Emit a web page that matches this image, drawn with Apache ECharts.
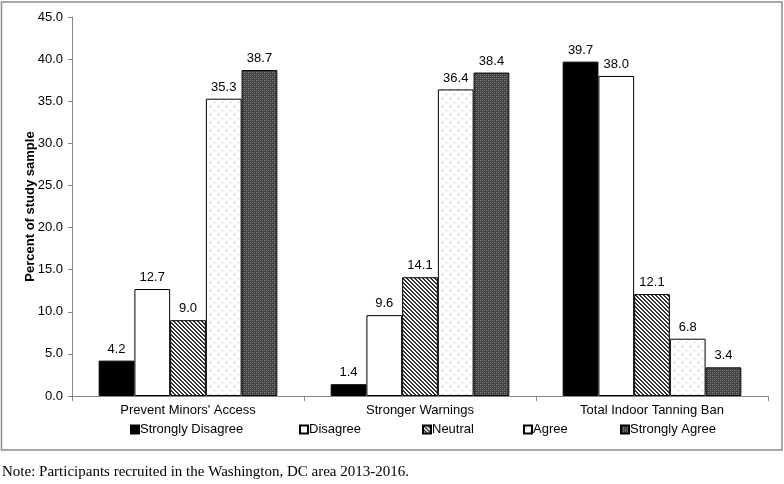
<!DOCTYPE html>
<html>
<head>
<meta charset="utf-8">
<script src="https://cdn.jsdelivr.net/npm/echarts@6/dist/echarts.min.js"></script>
<style>
html,body{margin:0;padding:0;background:#fff;}
#chart{width:784px;height:484px;}
</style>
</head>
<body>
<div id="chart"></div>
<script>
const categories = ["Prevent Minors' Access", "Stronger Warnings", "Total Indoor Tanning Ban"];
const seriesNames = ["Strongly Disagree", "Disagree", "Neutral", "Agree", "Strongly Agree"];
const stronglyDisagree = [4.2, 1.4, 39.7];
const disagree = [12.7, 9.6, 38.0];
const neutral = [9.0, 14.1, 12.1];
const agree = [35.3, 36.4, 6.8];
const stronglyAgree = [38.7, 38.4, 3.4];
const yTicks = {min: 0, max: 45, interval: 5};
const noteText = "Note: Participants recruited in the Washington, DC area 2013-2016.";

function makePattern(size, draw) {
  const c = document.createElement('canvas');
  c.width = size; c.height = size;
  const ctx = c.getContext('2d');
  draw(ctx, size);
  return {image: c, repeat: 'repeat'};
}
const stripePattern = makePattern(4, (ctx, s) => {
  ctx.fillStyle = '#fff'; ctx.fillRect(0, 0, s, s);
  ctx.fillStyle = '#333';
  for (let i = 0; i < s; i++) {
    ctx.fillRect(i, i, 1, 1);
    ctx.fillRect((i + 1) % s, i, 1, 1);
  }
});
const dotPattern = makePattern(8, (ctx, s) => {
  ctx.fillStyle = '#fff'; ctx.fillRect(0, 0, s, s);
  ctx.fillStyle = '#9a9a9a';
  ctx.fillRect(2, 2, 1, 1);
  ctx.fillRect(6, 6, 1, 1);
});
const checkPattern = makePattern(4, (ctx, s) => {
  ctx.fillStyle = '#444'; ctx.fillRect(0, 0, s, s);
  ctx.fillStyle = '#8a8a8a';
  ctx.fillRect(0, 0, 1, 1);
  ctx.fillRect(2, 2, 1, 1);
  ctx.fillStyle = '#666';
  ctx.fillRect(2, 0, 1, 1);
  ctx.fillRect(0, 2, 1, 1);
});

const fills = ['#000', '#fff', stripePattern, dotPattern, checkPattern];
const values = [stronglyDisagree, disagree, neutral, agree, stronglyAgree];
const legendX = [130, 299, 422, 523, 620];

const font = 'Liberation Sans, Arial, sans-serif';

const chart = echarts.init(document.getElementById('chart'), null, {renderer: 'canvas'});
const option = {
  backgroundColor: '#fff',
  animation: false,
  grid: {left: 72, right: 16, top: 17, bottom: 88, containLabel: false},
  legend: seriesNames.map((n, i) => ({
    data: [n],
    left: legendX[i],
    top: 423,
    itemWidth: 8,
    itemHeight: 8,
    icon: 'rect',
    padding: 0,
    selectedMode: false,
    textStyle: {fontFamily: font, fontSize: 13, color: '#000', padding: [0, 0, 0, -4]}
  })),
  xAxis: {
    type: 'category',
    data: categories,
    axisLine: {lineStyle: {color: '#868686', width: 1}},
    axisTick: {show: true, length: 5, lineStyle: {color: '#868686'}},
    axisLabel: {fontFamily: font, fontSize: 13, color: '#000', margin: 8},
  },
  yAxis: {
    type: 'value',
    min: yTicks.min, max: yTicks.max, interval: yTicks.interval,
    name: 'Percent of study sample',
    nameLocation: 'middle',
    nameGap: 35,
    nameMoveOverlap: false,
    nameTextStyle: {fontFamily: font, fontSize: 13, fontWeight: 'bold', color: '#000'},
    axisLine: {show: true, lineStyle: {color: '#868686', width: 1}},
    axisTick: {show: true, length: 4, lineStyle: {color: '#868686'}},
    axisLabel: {fontFamily: font, fontSize: 13, color: '#000', margin: 9, formatter: v => v.toFixed(1)},
    splitLine: {show: false}
  },
  series: seriesNames.map((n, i) => ({
    name: n,
    type: 'bar',
    data: values[i],
    barGap: '0%',
    barCategoryGap: '23%',
    itemStyle: {color: fills[i], borderColor: '#000', borderWidth: 1},
    label: {
      show: true, position: 'top', distance: 5,
      fontFamily: font, fontSize: 13, color: '#000',
      formatter: p => p.value.toFixed(1)
    }
  })),
  graphic: [
    {type: 'rect', shape: {x: 1.5, y: 2, width: 780.5, height: 448}, style: {fill: 'none', stroke: '#8c8c8c', lineWidth: 1.5}, silent: true},
    {type: 'text', left: 2, top: 465, style: {text: noteText, font: '15px "Liberation Serif", "Times New Roman", serif', fill: '#000'}}
  ]
};
chart.setOption(option);
</script>
</body>
</html>
